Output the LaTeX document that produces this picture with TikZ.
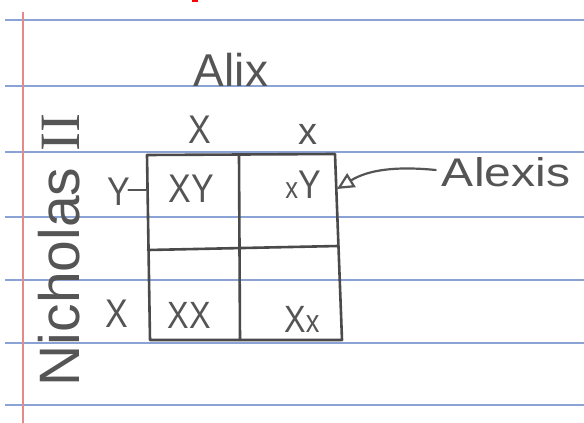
\documentclass[tikz,border=0pt]{standalone}
\usepackage{fontspec}
\setmainfont{Liberation Sans}
\newfontfamily\numfont{Liberation Serif}
\usetikzlibrary{arrows.meta}
\definecolor{paperline}{HTML}{8AA2D4}
\definecolor{margin}{HTML}{E38A8A}
\definecolor{pencil}{HTML}{555555}
\definecolor{ink}{HTML}{4A4A4A}
\tikzset{
  rule/.style={paperline, line width=2pt},
  hand/.style={text=pencil, inner sep=0pt, font=\fontsize{#1}{#1}\selectfont},
  hand/.default=40,
  grid/.style={ink, line width=2.6pt, line cap=round, line join=round},
  lbl/.style={pencil, line width=2.2pt, line cap=round}
}
\begin{document}
\begin{tikzpicture}[x=1pt,y=-1pt]
\useasboundingbox (0,0) rectangle (584,423);
\fill[white] (0,0) rectangle (584,423);
% paper rules
\foreach \yy in {20,86,152,217,280,343,405}
  \draw[rule] (5,\yy) -- (584,\yy);
\draw[margin, line width=1.5pt] (23,12) -- (23,423);
\fill[red] (192,0) rectangle (198,2);
% square corners
\coordinate (tl) at (147,155);
\coordinate (tr) at (335,154);
\coordinate (br) at (342,340);
\coordinate (bl) at (150,340);
\coordinate (mt) at (239,155);
\coordinate (mb) at (240,340);
\coordinate (ml) at (148,250);
\coordinate (mr) at (338,246);
\draw[grid] (tl) -- (tr) -- (br) -- (bl) -- cycle;
\draw[grid] (mt) -- (mb);
\draw[grid] (ml) -- (mr);
% labels
\node[hand=46] (alix) at (231,70) {Alix};
\node[hand=40, xscale=0.85] (topX) at (200,130) {X};
\node[hand=38] (topx) at (308,134) {x};
\node[hand=40, xscale=0.85] (leftY) at (119,192) {Y};
\node[hand=40, xscale=0.85] (leftX) at (117,314) {X};
\draw[lbl] (leftY.east) ++(-2,-2) coordinate (yj) -- (yj -| tl);
\node[hand=57, rotate=90, anchor=base] (nich) at (79,250) {Nicholas {\numfont II}};
% cells
\node[hand=40, xscale=0.85] (cXY) at (191,189) {XY};
\node[hand=40, xscale=0.85] (cxY) at (303,185) {{\fontsize{30}{30}\selectfont x}Y};
\node[hand=38, xscale=0.85] (cXX) at (189,315) {XX};
\node[hand=38, xscale=0.85] (cXx) at (302,319) {X{\fontsize{32}{32}\selectfont x}};
% Alexis
\node[hand=40, xscale=1.2] (alexis) at (506,172) {Alexis};
\draw[lbl, -{Triangle[open, length=17pt, width=16pt]}] (alexis.west) ++(-6,-2) coordinate (as)
  .. controls (395,166) and (368,170) .. (337,189);
\end{tikzpicture}
\end{document}
